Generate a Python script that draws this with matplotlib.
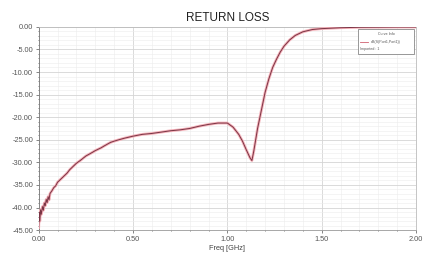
import matplotlib
matplotlib.use("Agg")
import matplotlib.pyplot as plt
from matplotlib.patches import Rectangle
from matplotlib.ticker import MultipleLocator, FormatStrFormatter

plt.rcParams['font.family'] = ['Liberation Sans', 'DejaVu Sans']

title = "RETURN LOSS"
x_label = "Freq [GHz]"
legend_title = "Curve Info"
series_name = "dB(S(Port1,Port1))"
legend_note = "Imported : 1"

freq = [0.0, 0.003, 0.006, 0.01, 0.014, 0.02, 0.025, 0.03, 0.035, 0.04, 0.045,
        0.05, 0.055, 0.06, 0.07, 0.08, 0.09, 0.10, 0.11, 0.12, 0.135, 0.15,
        0.165, 0.18, 0.20, 0.22, 0.25, 0.28, 0.30, 0.33, 0.35, 0.38, 0.40,
        0.45, 0.50, 0.55, 0.60, 0.65, 0.70, 0.75, 0.80, 0.85, 0.90, 0.95,
        1.00, 1.03, 1.06, 1.08, 1.10, 1.12, 1.13, 1.14, 1.16, 1.18, 1.20,
        1.22, 1.24, 1.26, 1.28, 1.30, 1.33, 1.36, 1.40, 1.45, 1.50, 1.60,
        1.70, 1.80, 1.90, 2.00]
s11_db = [-44.5, -41.0, -43.0, -40.5, -41.5, -39.8, -40.6, -39.0, -39.6, -38.2, -38.9,
          -37.6, -38.3, -36.9, -36.3, -35.6, -35.2, -34.4, -34.0, -33.6, -33.0, -32.4,
          -31.6, -31.0, -30.2, -29.6, -28.6, -27.9, -27.4, -26.8, -26.3, -25.6, -25.3,
          -24.7, -24.2, -23.8, -23.6, -23.3, -23.0, -22.8, -22.5, -22.0, -21.6, -21.3,
          -21.3, -22.2, -23.8, -25.3, -27.2, -29.0, -29.6, -27.5, -22.5, -18.5, -14.5,
          -11.5, -9.0, -7.2, -5.6, -4.3, -2.9, -1.9, -1.1, -0.6, -0.4, -0.2,
          -0.1, -0.08, -0.05, -0.05]

fig = plt.figure(figsize=(4.25, 2.63), dpi=100)
ax = fig.add_axes([0.091, 0.125, 0.888, 0.773])

ax.plot(freq, s11_db, color='#f4b0b8', lw=2.0, solid_capstyle='round', zorder=3)
ax.plot(freq, s11_db, color='#7a3444', lw=0.7, zorder=4)

ax.set_xlim(0, 2.0)
ax.set_ylim(-45, 0)
ax.xaxis.set_major_locator(MultipleLocator(0.5))
ax.xaxis.set_minor_locator(MultipleLocator(0.1))
ax.yaxis.set_major_locator(MultipleLocator(5))
ax.yaxis.set_minor_locator(MultipleLocator(1))
ax.xaxis.set_major_formatter(FormatStrFormatter('%.2f'))
ax.yaxis.set_major_formatter(FormatStrFormatter('%.2f'))
ax.grid(which='major', color='#d4d4d4', lw=0.6)
ax.grid(which='minor', color='#ececec', lw=0.4)
ax.set_axisbelow(True)
ax.tick_params(which='both', labelsize=5.3, colors='#555555', length=2, width=0.5, pad=2)
ax.tick_params(which='minor', length=1)
for name, sp in ax.spines.items():
    sp.set_color('#bbbbbb')
    sp.set_linewidth(0.6)
ax.spines['left'].set_color('#777777')
ax.spines['bottom'].set_color('#999999')

ax.set_title(title, fontsize=8.5, color='#222222', pad=4)
ax.set_xlabel(x_label, fontsize=5.3, color='#444444', labelpad=2)

# legend box
lx0, ly0, lw, lh = 0.845, 0.865, 0.15, 0.125
ax.add_patch(Rectangle((lx0, ly0), lw, lh, transform=ax.transAxes,
                       facecolor='white', edgecolor='#888888', lw=0.6, zorder=6))
ax.text(lx0 + lw / 2, ly0 + lh * 0.8, legend_title, transform=ax.transAxes,
        fontsize=2.6, ha='center', va='center', color='#555555', zorder=7)
ax.plot([lx0 + 0.006, lx0 + 0.028], [ly0 + lh * 0.5] * 2, transform=ax.transAxes,
        color='#d06070', lw=0.6, zorder=7)
ax.text(lx0 + 0.034, ly0 + lh * 0.5, series_name, transform=ax.transAxes,
        fontsize=2.6, ha='left', va='center', color='#555555', zorder=7)
ax.text(lx0 + 0.006, ly0 + lh * 0.22, legend_note, transform=ax.transAxes,
        fontsize=2.6, ha='left', va='center', color='#555555', zorder=7)

fig.savefig('out.png', dpi=100, facecolor='white')
